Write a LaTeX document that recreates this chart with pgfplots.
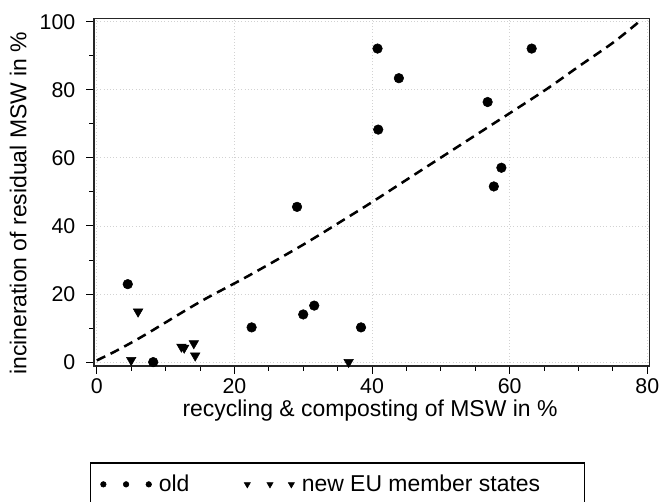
\documentclass[border=0pt]{standalone}
\usepackage{fontspec}
\setmainfont{Liberation Sans}
\usepackage{pgfplots}
\pgfplotsset{compat=1.18}
\newcommand{\fs}{\fontsize{16pt}{19pt}\selectfont}
\newcommand{\fl}{\fontsize{17.2pt}{20pt}\selectfont}
\pgfplotsset{
  oldleg/.style={legend image code/.code={\draw[##1, mark size=2.1pt, only marks, line width=0.4pt] plot coordinates {(0pt,0pt) (17pt,0pt) (34pt,0pt)};}},
  newleg/.style={legend image code/.code={\draw[##1, mark size=2.7pt, only marks, line width=0.4pt] plot coordinates {(0pt,0pt) (17pt,0pt) (33pt,0pt)};}},
}
\begin{document}
\begin{tikzpicture}
\begin{axis}[
  name=ax,
  scale only axis,
  width=416.25pt, height=260.55pt,
  xmin=-0.4, xmax=80.3, ymin=-1.1, ymax=101,
  xtick={0,20,40,60,80}, ytick={0,20,40,60,80,100},
  minor x tick num=3, minor y tick num=1,
  tick align=outside, tick pos=left,
  major tick length=6pt, minor tick length=3.5pt,
  every tick/.style={black, line width=0.7pt},
  axis line style={line width=1pt, black!85},
  grid=major, major grid style={gray!35, dotted, line width=0.6pt},
  /pgf/number format/assume math mode=true,
  tick label style={font=\fs},
  yticklabel style={xshift=-4.5pt},
  xlabel={recycling \& composting of MSW in \%},
  ylabel={incineration of residual MSW in \%},
  every axis x label/.style={at={(axis description cs:0.497,-0.1275)}, anchor=center, font=\fl},
  every axis y label/.style={at={(axis description cs:-0.1365,0.468)}, anchor=center, rotate=90, font=\fl},
  legend columns=2,
  legend style={at={(-0.0072,-0.278)}, anchor=north west, font=\fl, draw=black, line width=0.8pt,
    inner xsep=7.5pt, inner ysep=7pt,
    /tikz/every odd column/.append style={column sep=3.5pt},
    /tikz/every even column/.append style={column sep=39pt}},
]
\addplot[black, dashed, line width=1.9pt, dash pattern=on 7pt off 4.5pt, forget plot, smooth] coordinates {
(0,0.5) (3,3.5) (7,8) (15,17.7) (22,25.3) (30,34.5) (36.6,42.7) (40,47) (46.5,55.5) (57,69.2) (60,73.1) (65.6,80.5) (70,86.8) (75,93.8) (78.7,99.8)
};
\addplot[only marks, mark=*, mark size=3.6pt, black, oldleg] coordinates {
(4.5,22.9) (8.2,0) (22.5,10.2) (29.1,45.6) (30.0,14.0) (31.6,16.6) (38.4,10.2) (40.8,92.1) (40.9,68.3) (43.9,83.4) (56.8,76.4) (57.7,51.6) (58.8,57.1) (63.2,92.1)
};
\addlegendentry{old}
\addplot[only marks, mark=triangle*, mark size=4.1pt, mark options={rotate=180}, black, newleg] coordinates {
(6.0,14.8) (5.0,0.6) (12.3,4.5) (12.7,4.2) (14.1,5.5) (14.3,1.9) (36.6,0)
};
\addlegendentry{new EU member states\hbox to 24pt{}}
\end{axis}
\pgfresetboundingbox
\path ([shift={(-70.5pt,-101.5pt)}]ax.south west) rectangle ([shift={(8pt,13.7pt)}]ax.north east);
\end{tikzpicture}
\end{document}
